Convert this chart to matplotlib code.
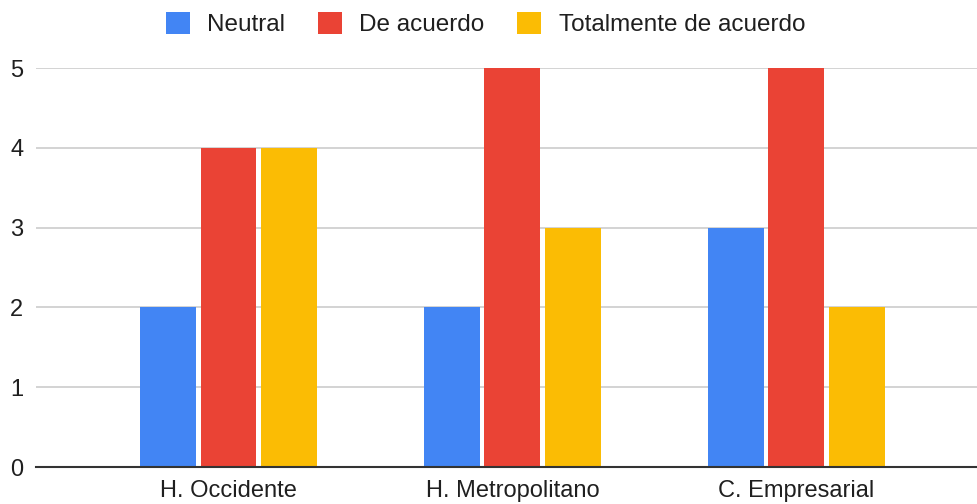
import matplotlib
matplotlib.use("Agg")
import matplotlib.pyplot as plt
from matplotlib.patches import Patch
import numpy as np

plt.rcParams['font.family'] = ['Liberation Sans', 'DejaVu Sans']

categories = ["H. Occidente", "H. Metropolitano", "C. Empresarial"]
series_names = ["Neutral", "De acuerdo", "Totalmente de acuerdo"]
neutral = [2, 2, 3]
de_acuerdo = [4, 5, 5]
totalmente = [4, 3, 2]
colors = ["#4285F4", "#EA4335", "#FBBC04"]

fig = plt.figure(figsize=(9.77, 5.04), dpi=100)
ax = fig.add_axes([0.0368, 0.0734, 0.9632, 0.7916])

x = np.arange(len(categories))
width = 0.197
step = 0.213
for i, (vals, col) in enumerate(zip([neutral, de_acuerdo, totalmente], colors)):
    ax.bar(x + (i - 1) * step, vals, width, color=col, zorder=3, clip_on=False)

ax.set_xlim(-0.678, 2.636)
ax.set_ylim(0, 5)
ax.set_yticks(range(0, 6))
ax.set_xticks(x)
ax.set_xticklabels(categories)
ax.tick_params(axis='both', length=0, labelsize=17, colors='#1f1f1f')
ax.tick_params(axis='y', pad=9)
ax.tick_params(axis='x', pad=9)
ax.grid(axis='y', color='#cccccc', linewidth=1.2, zorder=0)
for side in ['top', 'right', 'left']:
    ax.spines[side].set_visible(False)
ax.spines['bottom'].set_color('#333333')
ax.spines['bottom'].set_linewidth(1.5)
ax.spines['bottom'].set_zorder(4)

handles = [Patch(facecolor=c, edgecolor='none') for c in colors]
fig.legend(handles, series_names, loc='center', bbox_to_anchor=(0.497, 0.952),
           ncol=3, frameon=False, fontsize=17.5, handlelength=0.98, handleheight=0.98,
           handletextpad=0.72, columnspacing=1.35, labelcolor='#1f1f1f')

fig.savefig("out.png", dpi=100)
